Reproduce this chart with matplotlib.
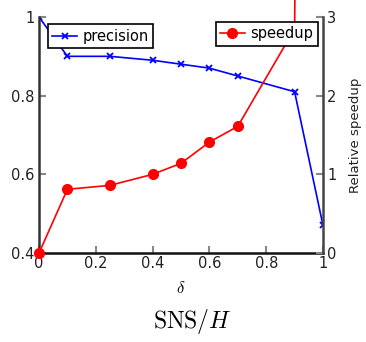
import numpy as np
import matplotlib.pyplot as plt

plt.rcParams['mathtext.fontset'] = 'cm'

# delta values and the two series
delta = [0, 0.1, 0.25, 0.4, 0.5, 0.6, 0.7, 0.9, 1.0]
precision = [1.0, 0.90, 0.90, 0.89, 0.88, 0.87, 0.85, 0.81, 0.47]
speedup_x = [0, 0.1, 0.25, 0.4, 0.5, 0.6, 0.7, 0.9, 1.0]
speedup = [0, 0.81, 0.86, 1.0, 1.14, 1.41, 1.61, 2.85, 40.0]

xticks = [0, 0.2, 0.4, 0.6, 0.8, 1]
xticklabels = ['0', '0.2', '0.4', '0.6', '0.8', '1']
yticks = [0.4, 0.6, 0.8, 1.0]
yticklabels = ['0.4', '0.6', '0.8', '1']
y2ticks = [0, 1, 2, 3]

fig = plt.figure(figsize=(3.66, 3.42), dpi=100)
ax1 = fig.add_axes([0.1066, 0.2602, 0.7759, 0.6901])
ax2 = ax1.twinx()

l1, = ax1.plot(delta, precision, color='blue', marker='x', markersize=5,
               markeredgewidth=1.3, linewidth=1.2, label='precision')
l2, = ax2.plot(speedup_x, speedup, color='red', marker='o', markersize=7,
               linewidth=1.2, label='speedup', clip_on=False)

ax1.set_xlim(0, 1)
ax1.set_ylim(0.4, 1.0)
ax2.set_ylim(0, 3)

ax1.set_xticks(xticks)
ax1.set_xticklabels(xticklabels)
ax1.set_yticks(yticks)
ax1.set_yticklabels(yticklabels)
ax2.set_yticks(y2ticks)
ax2.set_yticklabels([str(t) for t in y2ticks])

for ax in (ax1, ax2):
    ax.spines['top'].set_visible(False)
    ax.tick_params(direction='in', length=5, width=1.5, color='#888888',
                   labelsize=10.5, labelcolor='#222222', pad=3)
ax1.spines['left'].set_linewidth(1.8)
ax1.spines['bottom'].set_linewidth(1.8)
ax1.spines['left'].set_color('#333333')
ax1.spines['bottom'].set_color('#111111')
ax1.spines['right'].set_visible(False)
ax2.spines['left'].set_visible(False)
ax2.spines['bottom'].set_visible(False)
ax2.spines['right'].set_linewidth(1.8)
ax2.spines['right'].set_color('#444444')
ax1.tick_params(axis='x', pad=2)

ax1.set_xlabel(r'$\delta$', fontsize=12, labelpad=6)
ax2.set_ylabel('Relative speedup', fontsize=9.5, color='#222222', labelpad=9)

fig.text(0.525, 0.018, r'$\mathrm{SNS}/H$', ha='center', va='bottom', fontsize=17)

leg1 = ax1.legend(handles=[l1], loc='upper left', bbox_to_anchor=(0.031, 0.969),
                  borderaxespad=0, fancybox=False, edgecolor='black',
                  fontsize=10.5, handlelength=1.7, handletextpad=0.4,
                  borderpad=0.3, framealpha=1)
leg1.get_frame().set_linewidth(1.2)
leg2 = ax2.legend(handles=[l2], loc='upper right', bbox_to_anchor=(0.982, 0.979),
                  borderaxespad=0, fancybox=False, edgecolor='black',
                  fontsize=10.5, handlelength=1.7, handletextpad=0.4,
                  borderpad=0.3, framealpha=1)
leg2.get_frame().set_linewidth(1.2)

fig.savefig('out.png', dpi=100)
